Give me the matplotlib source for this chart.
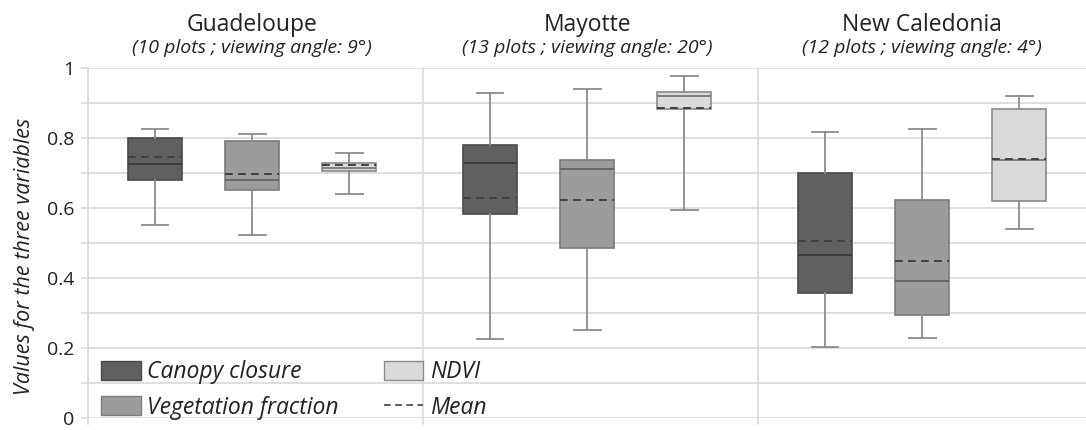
import numpy as np
import matplotlib
matplotlib.use('Agg')
import matplotlib.pyplot as plt
from matplotlib.patches import Patch
from matplotlib.lines import Line2D

plt.rcParams['font.family'] = ['Open Sans', 'DejaVu Sans']

# Sites and subtitles
sites = ['Guadeloupe', 'Mayotte', 'New Caledonia']
subtitles = ['(10 plots ; viewing angle: 9°)',
             '(13 plots ; viewing angle: 20°)',
             '(12 plots ; viewing angle: 4°)']
variables = ['Canopy closure', 'Vegetation fraction', 'NDVI']

# Box statistics (one value per site)
canopy_whislo = [0.550, 0.226, 0.202]
canopy_q1 = [0.680, 0.584, 0.357]
canopy_med = [0.726, 0.728, 0.467]
canopy_mean = [0.745, 0.628, 0.505]
canopy_q3 = [0.801, 0.781, 0.701]
canopy_whishi = [0.827, 0.930, 0.816]

veg_whislo = [0.522, 0.251, 0.229]
veg_q1 = [0.652, 0.487, 0.293]
veg_med = [0.679, 0.711, 0.391]
veg_mean = [0.698, 0.624, 0.448]
veg_q3 = [0.791, 0.737, 0.624]
veg_whishi = [0.811, 0.940, 0.827]

ndvi_whislo = [0.640, 0.595, 0.539]
ndvi_q1 = [0.705, 0.883, 0.620]
ndvi_med = [0.713, 0.921, 0.737]
ndvi_mean = [0.722, 0.885, 0.739]
ndvi_q3 = [0.728, 0.932, 0.882]
ndvi_whishi = [0.756, 0.977, 0.921]

stats_per_var = [
    (canopy_whislo, canopy_q1, canopy_med, canopy_mean, canopy_q3, canopy_whishi),
    (veg_whislo, veg_q1, veg_med, veg_mean, veg_q3, veg_whishi),
    (ndvi_whislo, ndvi_q1, ndvi_med, ndvi_mean, ndvi_q3, ndvi_whishi),
]

# Styling
fills = ['#606060', '#9c9c9c', '#dadada']
edges = ['#4a4a4a', '#7c7c7c', '#8a8a8a']
medcols = ['#3c3c3c', '#666666', '#808080']
offsets = [0.2, 0.49, 0.78]
box_w = 0.161
grid_col = '#d9d9d9'
text_col = '#222222'
mean_dash = (0, (4, 2.7))

fig = plt.figure(figsize=(10.86, 4.30), dpi=100)
ax = fig.add_axes([88 / 1086, 12 / 430, 998 / 1086, 350 / 430])

for v, (wlo, q1, med, mean, q3, whi) in enumerate(stats_per_var):
    bstats = []
    for s in range(len(sites)):
        bstats.append({'whislo': wlo[s], 'q1': q1[s], 'med': med[s],
                       'mean': mean[s], 'q3': q3[s], 'whishi': whi[s]})
    pos = [s + offsets[v] for s in range(len(sites))]
    ax.bxp(bstats, positions=pos, widths=box_w, patch_artist=True,
           showmeans=True, meanline=True, showfliers=False,
           capwidths=box_w / 2,
           boxprops=dict(facecolor=fills[v], edgecolor=edges[v], linewidth=1.2),
           medianprops=dict(color=medcols[v], linewidth=1.4),
           meanprops=dict(color='#404040', linestyle=mean_dash, linewidth=1.4),
           whiskerprops=dict(color='#8c8c8c', linewidth=1.3),
           capprops=dict(color='#8c8c8c', linewidth=1.3),
           zorder=3)

ax.set_xlim(0, 998 / 335)
ax.set_ylim(0, 1)
ax.set_xticks([])
yt = np.round(np.arange(0, 1.01, 0.1), 1)
ax.set_yticks(yt)
ax.set_yticklabels([('%g' % t) if round(t * 10) % 2 == 0 else '' for t in yt],
                   fontsize=14, color=text_col)
ax.tick_params(axis='y', length=5, color=grid_col, width=1.2, pad=5)
ax.grid(axis='y', color=grid_col, linewidth=1.2, zorder=0)
ax.set_axisbelow(True)
for sp in ax.spines.values():
    sp.set_visible(False)

# left axis line and site separators
for xv in [0, 1, 2]:
    ax.axvline(xv, ymin=-0.018, ymax=1, color=grid_col, linewidth=1.2,
               clip_on=False, zorder=1)

# titles
tr = ax.get_xaxis_transform()
for s, site in enumerate(sites):
    xc = s + offsets[1]
    ax.text(xc, 1.122, site, transform=tr, ha='center', va='center',
            fontsize=16.5, color=text_col)
    ax.text(xc, 1.057, subtitles[s], transform=tr, ha='center', va='center',
            fontsize=14, style='italic', color=text_col)

fig.text(25 / 1086, 1 - 256 / 430, 'Values for the three variables',
         rotation=90, ha='center', va='center', fontsize=15.5, style='italic',
         color=text_col)

handles = [Patch(facecolor=fills[0], edgecolor=edges[0]),
           Patch(facecolor=fills[1], edgecolor=edges[1]),
           Patch(facecolor=fills[2], edgecolor=edges[2]),
           Line2D([], [], color='#404040', linestyle=mean_dash, linewidth=1.2)]
labels = [variables[0], variables[1], variables[2], 'Mean']
leg = ax.legend(handles, labels, ncol=2, loc='lower left',
                bbox_to_anchor=(12 / 998, -3 / 350), frameon=False,
                prop={'size': 16.5, 'style': 'italic'},
                handlelength=1.72, handleheight=0.9, handletextpad=0.3,
                columnspacing=1.95, labelspacing=0.5, borderpad=0.05,
                borderaxespad=0)
for t in leg.get_texts():
    t.set_color(text_col)

fig.savefig('out.png', dpi=100)
